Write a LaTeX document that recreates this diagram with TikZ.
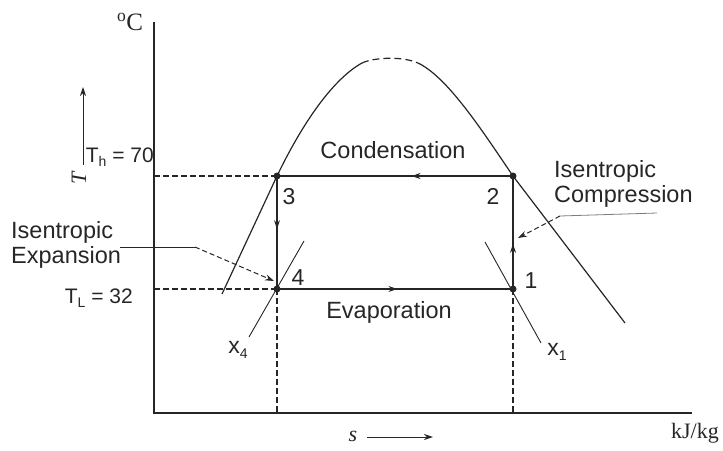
\documentclass[tikz,border=0pt]{standalone}
\usepackage{fontspec}
\setmainfont{Liberation Serif}
\newfontfamily\labsans{Liberation Sans}
\usetikzlibrary{arrows.meta,decorations.markings}
\definecolor{ink}{gray}{0.15}
\newcommand{\sub}[1]{\raisebox{-0.35ex}{\fontsize{14}{14}\selectfont #1}}
\tikzset{
  x=1pt,y=-1pt,
  axisline/.style={ink,line width=1.4pt},
  curve/.style={ink,line width=1.2pt},
  cycleline/.style={ink,line width=1.3pt},
  guide/.style={ink,line width=1.1pt,dash pattern=on 6pt off 3pt},
  quality/.style={ink,line width=0.9pt},
  statept/.style={circle,fill=ink,inner sep=0pt,minimum size=7pt},
  sanslab/.style={ink,font=\labsans\fontsize{23.5}{24.5}\selectfont,inner sep=0pt},
  numlab/.style={ink,font=\labsans\fontsize{23}{24}\selectfont,inner sep=0pt},
  seriflab/.style={ink,font=\fontsize{22}{24}\selectfont,inner sep=0pt},
  midarrow/.style={decoration={markings,mark=at position #1 with {\arrow{Stealth[length=9pt,width=6pt]}}},postaction={decorate}},
  tip/.style={-{Stealth[length=9pt,width=6pt]}}
}
\begin{document}
\begin{tikzpicture}
\useasboundingbox (0,0) rectangle (723,450);
% coordinates
\coordinate (O) at (154,413);
\coordinate (Ytop) at (154,22);
\coordinate (Xend) at (692,413);
\coordinate (P3) at (277,176);
\coordinate (P2) at (513,176);
\coordinate (P4) at (277,289);
\coordinate (P1) at (513,289);
\coordinate (Yh) at (154,176);
\coordinate (Yl) at (154,289);
\coordinate (B4) at (277,413);
\coordinate (B1) at (513,413);
% axes
\draw[axisline] (Ytop) -- (O) -- (Xend);
\node[ink,font=\fontsize{25}{26}\selectfont,inner sep=0pt] (degC) at (130,22) {$^{\mathrm{o}}$C};
\node[seriflab] (kjkg) at (695,433) {kJ/kg};
\node[seriflab] (slab) at (353,436) {\itshape s};
\coordinate (sa) at (367,437);
\coordinate (sb) at (433,437);
\draw[ink,line width=1pt,tip] (sa) -- (sb);
\coordinate (ta) at (83,165);
\coordinate (tb) at (83,87);
\draw[ink,line width=1pt,tip] (ta) -- (tb);
\node[seriflab,rotate=90] (Tlab) at (79,178) {\itshape T};
\node[ink,font=\labsans\fontsize{21}{24}\selectfont,inner sep=0pt,anchor=east] (Th) at (154,157) {T\sub{h} = 70};
\node[ink,font=\labsans\fontsize{21}{24}\selectfont,inner sep=0pt,anchor=east] (Tl) at (133,298) {T\sub{L} = 32};
% guides
\draw[guide] (Yh) -- (P3);
\draw[guide] (Yl) -- (P4);
\draw[guide] (P4) -- (B4);
\draw[guide] (P1) -- (B1);
% dome
\draw[curve] (222,294) -- (P3) .. controls (305,118) and (335,78) .. (362,63);
\draw[curve,dash pattern=on 7pt off 4pt] (362,63) .. controls (375,57) and (405,56) .. (420,64);
\draw[curve] (420,64) .. controls (450,80) and (485,135) .. (P2) -- (625,323);
% quality lines
\coordinate (x4a) at (249,337);
\coordinate (x4b) at (304,241);
\coordinate (x1a) at (485,242);
\coordinate (x1b) at (541,343);
\draw[quality] (x4a) -- (x4b);
\draw[quality] (x1a) -- (x1b);
% cycle
\draw[cycleline,midarrow=0.43] (P2) -- (P3);
\draw[cycleline,midarrow=0.47] (P3) -- (P4);
\draw[cycleline,midarrow=0.51] (P4) -- (P1);
\draw[cycleline,midarrow=0.40] (P1) -- (P2);
\foreach \p in {P1,P2,P3,P4} \node[statept] at (\p) {};
% labels
\node[numlab] (n3) at (289,197) {3};
\node[numlab] (n2) at (493,196) {2};
\node[numlab] (n4) at (298,278) {4};
\node[numlab] (n1) at (531,281) {1};
\node[numlab] (x4) at (238,350) {x\sub{4}};
\node[numlab] (x1) at (557,352) {x\sub{1}};
\node[sanslab] (cond) at (393,150) {Condensation};
\node[sanslab] (evap) at (389,312) {Evaporation};
\node[sanslab,align=left,anchor=west] (comp) at (554,184) {Isentropic\\Compression};
\node[sanslab,align=left,anchor=west] (expn) at (11,245) {Isentropic\\Expansion};
% leaders
\coordinate (cl1) at (560,216);
\coordinate (cl2) at (657,213);
\coordinate (ct) at (518,238);
\draw[ink!60,line width=0.8pt] (cl1) -- (cl2);
\draw[ink,line width=1pt,dash pattern=on 5pt off 3pt,tip] (cl1) -- (ct);
\coordinate (el1) at (120,247);
\coordinate (el2) at (195,247);
\coordinate (et) at (274,281);
\draw[ink,line width=1pt] (el1) -- (el2);
\draw[ink,line width=1pt,dash pattern=on 5pt off 3pt,tip] (el2) -- (et);
\end{tikzpicture}
\end{document}
